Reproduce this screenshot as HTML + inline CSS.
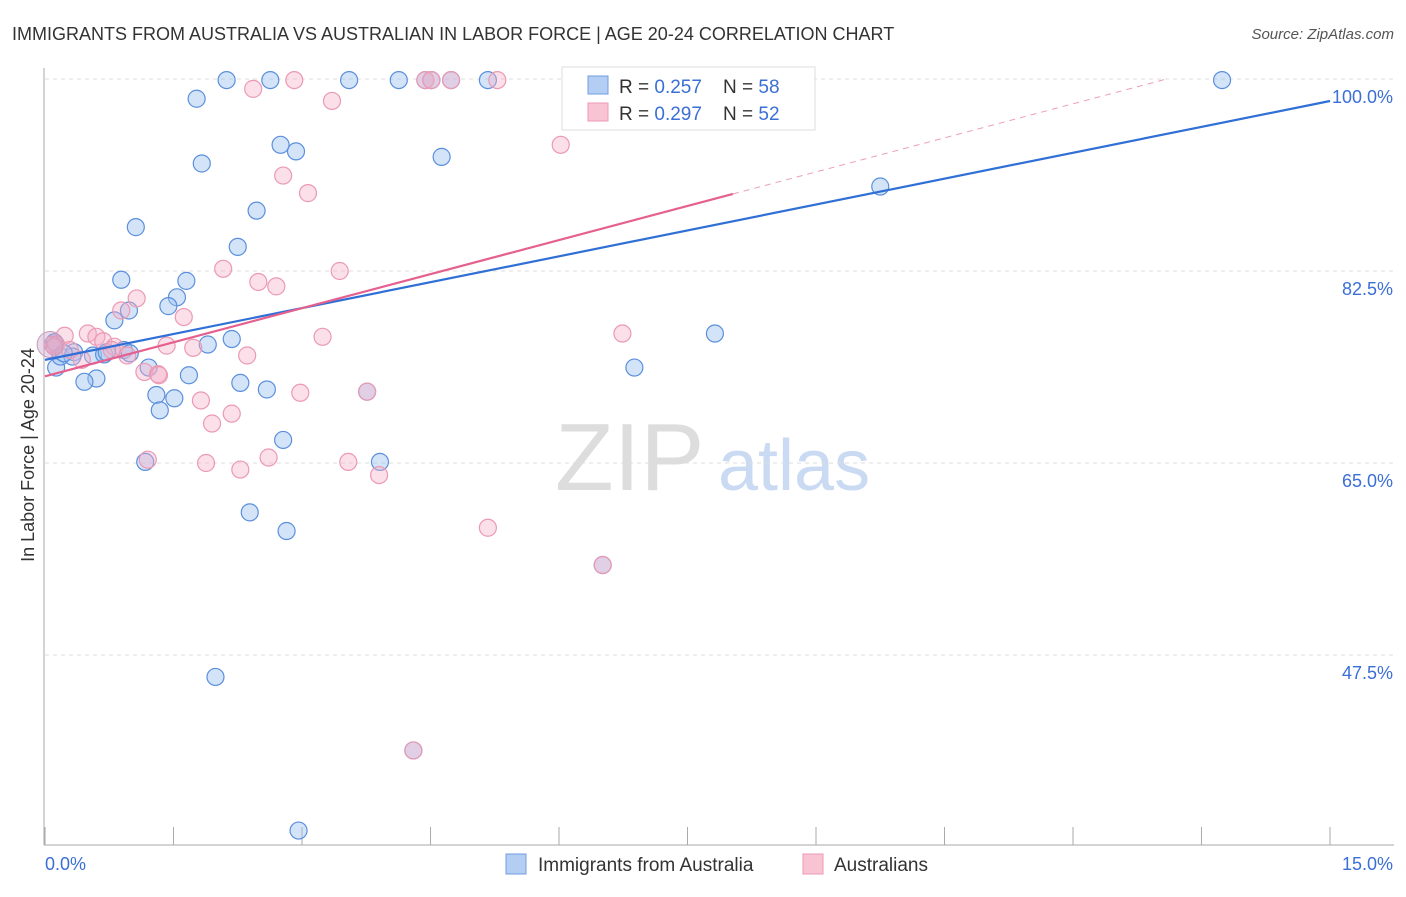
<!DOCTYPE html>
<html><head><meta charset="utf-8"><style>
body{margin:0;background:#fff;font-family:"Liberation Sans",sans-serif}
svg text{font-family:"Liberation Sans",sans-serif}
</style></head><body>
<svg id="c" width="1406" height="892">
<text x="12" y="40" font-size="18" fill="#333">IMMIGRANTS FROM AUSTRALIA VS AUSTRALIAN IN LABOR FORCE | AGE 20-24 CORRELATION CHART</text>
<text x="1394" y="39" font-size="15" fill="#555" font-style="italic" text-anchor="end">Source: ZipAtlas.com</text>
<text x="555" y="490" font-size="96" fill="#ddd" font-family="Liberation Serif">ZIP</text>
<text x="718" y="490" font-size="72" fill="#c9daf2">atlas</text>
<text transform="translate(34,455) rotate(-90)" font-size="18" fill="#333" text-anchor="middle">In Labor Force | Age 20-24</text>
<g id="grid"></g><g id="pts"></g><g id="lines"></g>
<g>
<rect x="562" y="67" width="253" height="63" fill="#fff" stroke="#ddd"/>
<rect x="588" y="76" width="20" height="18" fill="#b4cdf3" stroke="#6f9de0"/>
<rect x="588" y="103" width="20" height="18" fill="#f8c3d2" stroke="#ec99b2"/>
<text x="619" y="93" font-size="19" fill="#333" xml:space="preserve">R = <tspan fill="#3a6fd6">0.257</tspan>    N = <tspan fill="#3a6fd6">58</tspan></text>
<text x="619" y="120" font-size="19" fill="#333" xml:space="preserve">R = <tspan fill="#3a6fd6">0.297</tspan>    N = <tspan fill="#3a6fd6">52</tspan></text>
</g>
<g>
<rect x="506" y="854" width="20" height="20" fill="#b4cdf3" stroke="#6f9de0"/>
<text x="538" y="871" font-size="19" fill="#333">Immigrants from Australia</text>
<rect x="803" y="854" width="20" height="20" fill="#f8c3d2" stroke="#ec99b2"/>
<text x="834" y="871" font-size="19" fill="#333">Australians</text>
</g>
</svg>
<script>
const xTickVals=[0,1.5,3,4.5,6,7.5,9,10.5,12,13.5,15];
const yTickVals=[47.5,65,82.5,100];
const yTickLabels=["47.5%","65.0%","82.5%","100.0%"];
const blueX=[2.12,2.63,3.55,4.13,4.44,4.51,4.74,5.17,13.74,1.77,2.75,2.93,1.83,4.63,2.47,1.06,2.25,0.89,1.65,1.54,1.44,0.98,0.81,9.75,7.82,6.88,2.18,1.90,0.11,0.13,0.18,0.34,0.32,0.56,0.69,0.92,0.72,1.21,1.68,2.28,0.60,0.46,1.30,1.51,2.59,1.34,2.78,1.17,3.91,2.39,2.82,1.99,2.96,3.76,6.51,4.30,0.22,0.99];
const blueY=[99.9,99.9,99.9,99.9,99.9,99.9,99.9,99.9,99.9,98.2,94.0,93.4,92.3,92.9,88.0,86.5,84.7,81.7,81.6,80.1,79.3,78.9,78.0,90.2,76.8,73.7,76.3,75.8,76.0,73.7,74.7,75.1,74.7,74.8,74.9,75.3,75.1,73.7,73.0,72.3,72.7,72.4,71.2,70.9,71.7,69.8,67.1,65.1,65.1,60.5,58.8,45.5,31.5,71.5,55.7,38.8,75.0,75.0];
const pinkX=[2.91,4.44,4.51,5.28,6.17,2.43,3.35,6.02,2.78,3.07,2.08,3.44,2.49,2.70,1.07,1.62,0.89,3.24,6.74,0.50,0.23,0.09,0.60,0.68,0.81,1.42,1.73,2.36,0.96,0.43,1.16,1.32,1.82,1.95,2.18,2.98,3.76,1.20,1.88,2.28,2.61,3.54,3.90,5.17,6.51,4.30,0.13,0.29,0.78,1.33,0.11,4.74];
const pinkY=[99.9,99.9,99.9,99.9,99.9,99.1,98.0,94.0,91.2,89.6,82.7,82.5,81.5,81.1,80.0,78.3,78.9,76.5,76.8,76.8,76.6,75.8,76.5,76.1,75.6,75.7,75.5,74.8,74.8,74.4,73.3,73.1,70.7,68.6,69.5,71.4,71.5,65.3,65.0,64.4,65.5,65.1,63.9,59.1,55.7,38.8,75.8,75.3,75.3,73.0,75.6,99.9];
const blueFit=[74.4,1.573]; // intercept, slope per %
const pinkFit=[72.9,2.07];
const pinkSolidEnd=8.03, pinkDashEnd=13.07;
const X=v=>45+v/15*1285, Y=v=>79+(100-v)/17.5*192;
const NS="http://www.w3.org/2000/svg";
function mk(tag,a,parent){const e=document.createElementNS(NS,tag);for(const k in a)e.setAttribute(k,a[k]);document.getElementById(parent).appendChild(e);return e;}
yTickVals.forEach((v,i)=>{
 const g=mk('line',{x1:45,x2:1394,y1:Y(v),y2:Y(v),stroke:'#ddd','stroke-dasharray':'4,4'},'grid');
 
 
 const t=mk('text',{x:1393,y:Y(v)+24,'font-size':18,fill:'#3a6fd6','text-anchor':'end'},'grid');
 t.textContent=yTickLabels[i];
 
 
});
const ax=mk('line',{x1:44,x2:44,y1:68,y2:845,stroke:'#aaa'},'grid');


const bx=mk('line',{x1:44,x2:1394,y1:845,y2:845,stroke:'#aaa'},'grid');


xTickVals.forEach(v=>{
 const t=mk('line',{x1:X(v),x2:X(v),y1:827,y2:845,stroke:'#aaa'},'grid');
 
 
});
[["0.0%",45,'start'],["15.0%",1393,'end']].forEach(([s,x,a])=>{
 const t=mk('text',{x:x,y:870,'font-size':18,fill:'#3a6fd6','text-anchor':a},'grid');t.textContent=s;
 
 
});
blueX.forEach((x,i)=>{
 const c=mk('circle',{cx:X(x),cy:Y(blueY[i]),r:8.5,fill:'rgba(160,195,240,0.45)',stroke:'#5b8fdd','stroke-width':1.2},'pts');
 
 
});
pinkX.forEach((x,i)=>{
 const c=mk('circle',{cx:X(x),cy:Y(pinkY[i]),r:8.5,fill:'rgba(245,175,200,0.4)',stroke:'#eb9ab3','stroke-width':1.2},'pts');
 
 
});
const big=mk('circle',{cx:X(0.06),cy:Y(75.8),r:13,fill:'rgba(200,160,200,0.4)',stroke:'#c79ac0'},'pts');


const f=(p,x)=>p[0]+p[1]*x;
const bl=mk('line',{x1:X(0),y1:Y(f(blueFit,0)),x2:X(15),y2:Y(f(blueFit,15)),stroke:'#2f6fd6','stroke-width':2.2},'lines');


const pl=mk('line',{x1:X(0),y1:Y(f(pinkFit,0)),x2:X(pinkSolidEnd),y2:Y(f(pinkFit,pinkSolidEnd)),stroke:'#e5608f','stroke-width':2.2},'lines');


const pd=mk('line',{x1:X(pinkSolidEnd),y1:Y(f(pinkFit,pinkSolidEnd)),x2:X(pinkDashEnd),y2:Y(f(pinkFit,pinkDashEnd)),stroke:'#eba0b8','stroke-width':1,'stroke-dasharray':'6,5'},'lines');


</script>
</body></html>
